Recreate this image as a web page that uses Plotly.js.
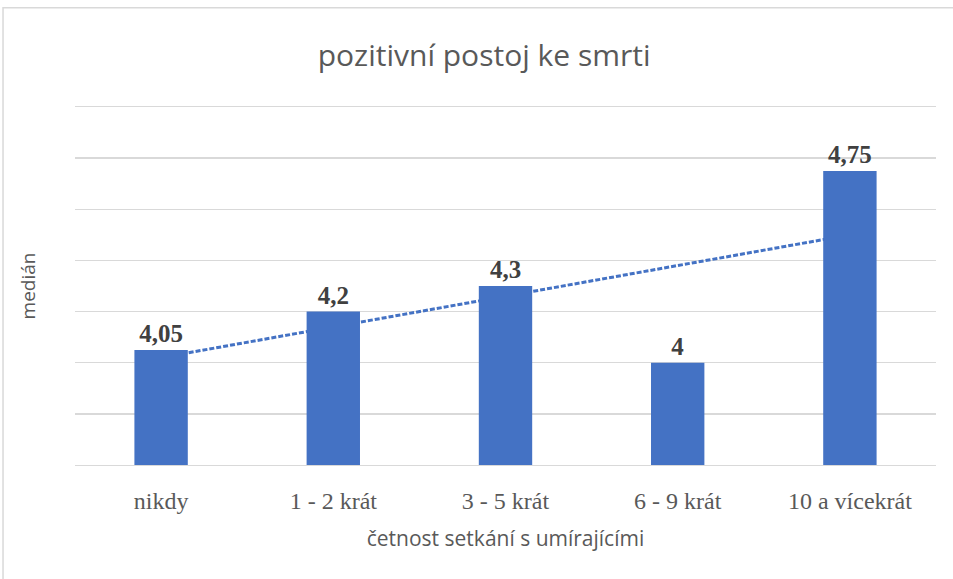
<!DOCTYPE html>
<html>
<head>
<meta charset="utf-8">
<script src="https://cdn.plot.ly/plotly-3.0.1.min.js"></script>
<style>html,body{margin:0;padding:0;background:#fff}#chart{width:953px;height:579px}</style>
</head>
<body>
<div id="chart"></div>
<script>
const categories = ["nikdy", "1 - 2 krát", "3 - 5 krát", "6 - 9 krát", "10 a vícekrát"];
const medians = [4.05, 4.2, 4.3, 4.0, 4.75];
const labels = ["4,05", "4,2", "4,3", "4", "4,75"];

// linear trendline (least squares over category index)
const n = medians.length;
const xs = medians.map((_, i) => i + 1);
const mx = xs.reduce((a, b) => a + b, 0) / n;
const my = medians.reduce((a, b) => a + b, 0) / n;
let num = 0, den = 0;
for (let i = 0; i < n; i++) { num += (xs[i] - mx) * (medians[i] - my); den += (xs[i] - mx) ** 2; }
const slope = num / den, icpt = my - slope * mx;
const trend = xs.map(x => icpt + slope * x);

const blue = "#4472C4";
const yRange = [3.6, 5.0];
const serif = "'Liberation Serif', 'Times New Roman', serif";
const sans = "'Open Sans', sans-serif";

const traces = [
  {type: "scatter", mode: "lines", x: categories, y: trend, xaxis: "x", yaxis: "y",
   line: {color: blue, width: 3, dash: "5px,2px"}, hoverinfo: "skip", showlegend: false},
  {type: "bar", x: categories, y: medians, xaxis: "x", yaxis: "y2",
   marker: {color: blue}, width: 0.31, text: labels, textposition: "outside",
   textfont: {family: serif, size: 25, color: "#404040", weight: "bold"},
   cliponaxis: false, showlegend: false}
];

const layout = {
  width: 953, height: 579,
  margin: {l: 75, r: 17, t: 107, b: 114},
  paper_bgcolor: "#fff", plot_bgcolor: "#fff",
  title: {text: "pozitivní postoj ke smrti", x: 0.508, xanchor: "center", y: 0.905, yanchor: "middle",
    font: {family: sans, size: 30, color: "#595959"}},
  xaxis: {type: "category", showgrid: false, zeroline: false, ticks: "",
    showline: true, mirror: true, linecolor: "#d9d9d9", linewidth: 1.3,
    ticklabelstandoff: 14,
    tickfont: {family: serif, size: 24, color: "#595959"},
    title: {text: "četnost setkání s umírajícími", standoff: 18,
      font: {family: sans, size: 21, color: "#595959"}}},
  yaxis: {range: yRange, dtick: 0.2, tick0: 3.6, showticklabels: false, showgrid: true, gridcolor: "#d9d9d9", gridwidth: 1.3,
    zeroline: false, showline: false, ticks: "",
    title: {text: "medián", standoff: 33, font: {family: sans, size: 19, color: "#595959"}}},
  yaxis2: {range: yRange, overlaying: "y", showgrid: false, showticklabels: false, zeroline: false, ticks: ""},
  shapes: [{type: "rect", xref: "paper", yref: "paper", x0: -0.0836, x1: 1.05, y0: -0.4, y1: 1.277,
    line: {color: "#d9d9d9", width: 1.5}, fillcolor: "rgba(0,0,0,0)", layer: "below"}]
};

Plotly.newPlot("chart", traces, layout, {displayModeBar: false, staticPlot: true});
</script>
</body>
</html>
